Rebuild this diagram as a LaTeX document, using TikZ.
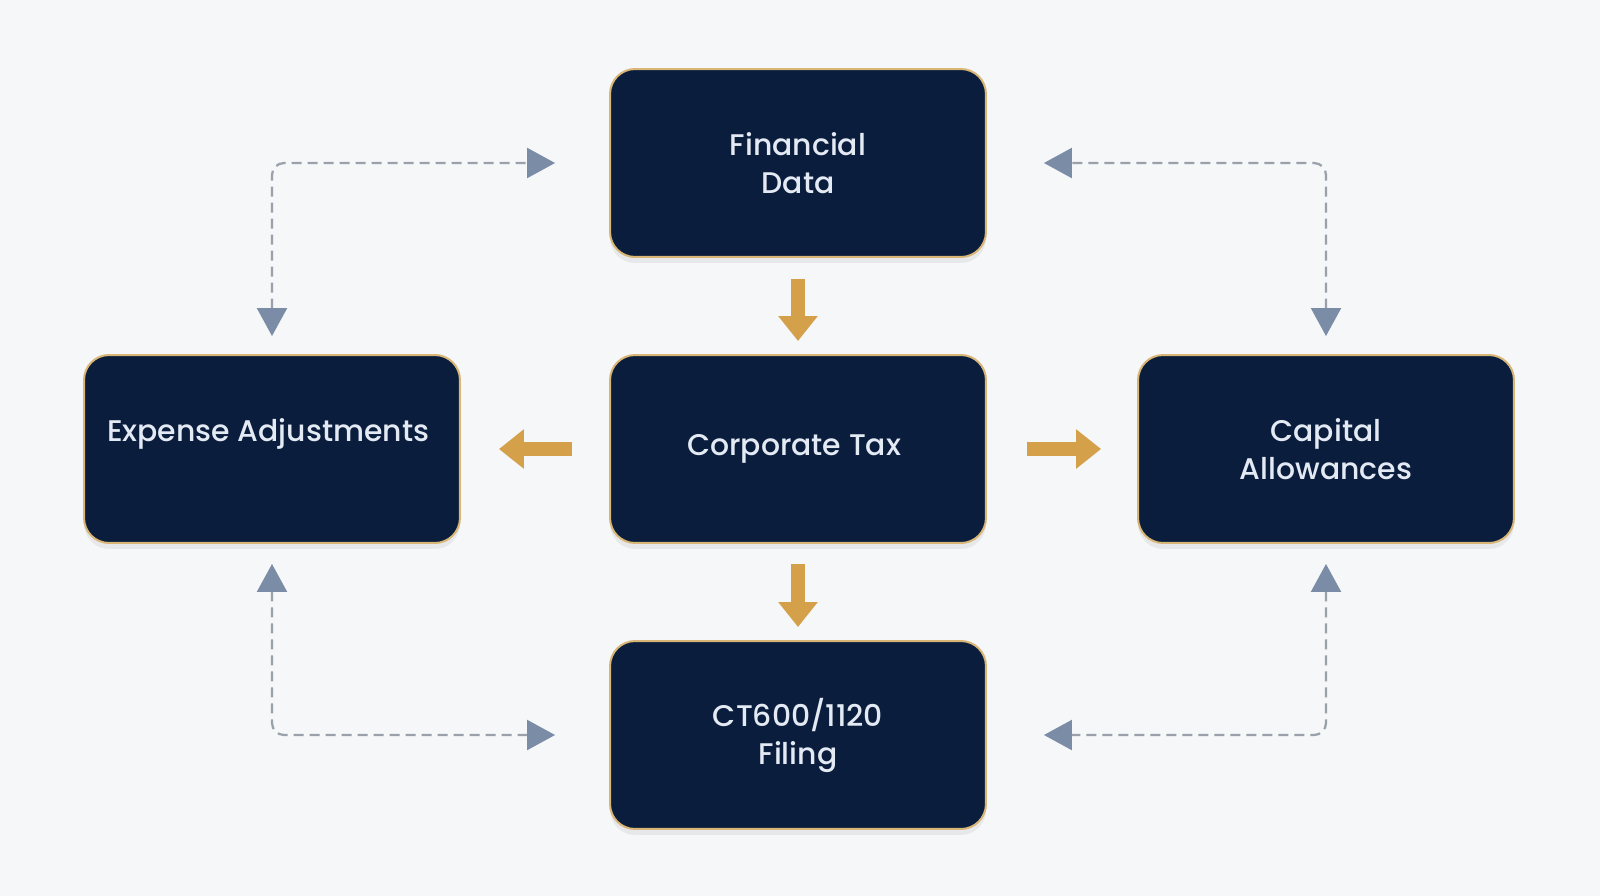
\documentclass[tikz,border=0pt]{standalone}
\usepackage{fontspec}
\setmainfont{Poppins}[UprightFont=* Medium]
\definecolor{mynavy}{HTML}{0A1D3D}
\definecolor{mygold}{HTML}{D9B675}
\definecolor{myorange}{HTML}{D4A04A}
\definecolor{myslate}{HTML}{7B8DA6}
\definecolor{mydash}{HTML}{9AA1AB}
\definecolor{mybg}{HTML}{F5F7F9}
\definecolor{mytext}{HTML}{E4EAF3}
\usetikzlibrary{arrows.meta, shadows, positioning}
\tikzset{
	defaultnode/.style={
			rectangle,
			rounded corners=0.5cm,
			draw=mygold,
			line width=0.04cm,
			fill=mynavy,
			text=mytext,
			minimum width=7.52cm,
			minimum height=3.76cm,
			align=center,
			font=\fontsize{17}{21.6}\selectfont,
			drop shadow={shadow xshift=0pt, shadow yshift=-0.12cm, opacity=0.12}
		},
	goldarrow/.style={
			myorange,
			line width=0.29cm,
			-{Triangle[width=0.76cm, length=0.5cm]}
		},
	dashlink/.style={
			mydash,
			line width=0.045cm,
			dash pattern=on 0.2cm off 0.12cm,
			rounded corners=0.24cm,
			{Triangle[width=0.6cm, length=0.56cm, color=myslate]}-{Triangle[width=0.6cm, length=0.56cm, color=myslate]}
		}
}

\begin{document}
\begin{tikzpicture}[x=0.02cm, y=-0.02cm]
\fill[mybg] (0,0) rectangle (1600,896);

\node[defaultnode] (n1) at (798,163) { Financial\\Data };
\node[defaultnode] (n2) at (798,449) { Corporate Tax };
\node[defaultnode, text depth=0.76cm] (n3) at (272,449) { Expense Adjustments };
\node[defaultnode] (n4) at (1326,449) { Capital\\Allowances };
\node[defaultnode] (n5) at (798,735) { CT600/1120\\Filing };

\draw[goldarrow, shorten <=0.42cm, shorten >=0.26cm] (n1) -- (n2);
\draw[goldarrow, shorten <=0.74cm, shorten >=0.76cm] (n2) -- (n3);
\draw[goldarrow, shorten <=0.8cm, shorten >=0.72cm] (n2) -- (n4);
\draw[goldarrow, shorten <=0.4cm, shorten >=0.26cm] (n2) -- (n5);

\draw[dashlink, shorten <=0.36cm, shorten >=1.08cm] (n3.north) |- (n1.west);
\draw[dashlink, shorten <=0.36cm, shorten >=1.14cm] (n4.north) |- (n1.east);
\draw[dashlink, shorten <=0.4cm, shorten >=1.08cm] (n3.south) |- (n5.west);
\draw[dashlink, shorten <=0.4cm, shorten >=1.14cm] (n4.south) |- (n5.east);
\end{tikzpicture}
\end{document}
